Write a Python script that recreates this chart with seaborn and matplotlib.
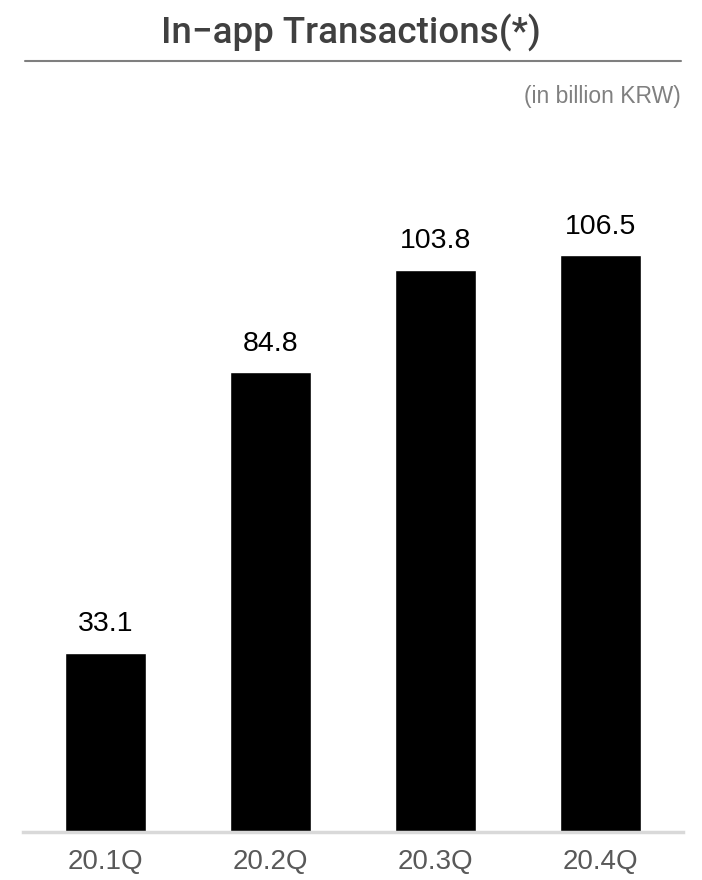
import matplotlib
matplotlib.use("Agg")
import matplotlib.pyplot as plt
import seaborn as sns
import pandas as pd
from matplotlib.lines import Line2D

categories = ["20.1Q", "20.2Q", "20.3Q", "20.4Q"]
values = [33.1, 84.8, 103.8, 106.5]
value_labels = ["33.1", "84.8", "103.8", "106.5"]
title = "In\u2212app Transactions(*)"
unit = "(in billion KRW)"

sns.set_theme(style="white")
plt.rcParams["font.family"] = ["Liberation Sans", "DejaVu Sans"]

W, H = 702, 880
fig = plt.figure(figsize=(W / 100, H / 100), dpi=100)
ax = fig.add_axes([23 / W, 48 / H, 660 / W, 692 / H])

df = pd.DataFrame({"quarter": categories, "value": values})
sns.barplot(data=df, x="quarter", y="value", color="black", width=0.49,
            saturation=1, ax=ax)
ax.set_xlim(-0.5, 3.5)
ax.set_ylim(0, 127.7)

for c in ax.containers:
    ax.bar_label(c, labels=value_labels, padding=11, fontsize=20.5, color="black")

for s in ["top", "left", "right"]:
    ax.spines[s].set_visible(False)
ax.spines["bottom"].set_color("#d9d9d9")
ax.spines["bottom"].set_linewidth(2.5)
ax.set_yticks([])
ax.set_xlabel("")
ax.set_ylabel("")
ax.tick_params(axis="x", length=0, pad=12, labelsize=20, labelcolor="#595959")

fig.text(0.5, 1 - 33 / H, title, ha="center", va="center", fontsize=26.5,
         color="#404040", family=["Roboto", "DejaVu Sans"], fontweight="medium")
fig.add_artist(Line2D([25 / W, 681 / W], [1 - 61 / H, 1 - 61 / H],
                      color="#7f7f7f", linewidth=1.5, transform=fig.transFigure))
fig.text(681 / W, 1 - 97 / H, unit, ha="right", va="center", fontsize=16.5,
         color="#808080")

fig.savefig("out.png", dpi=100)
